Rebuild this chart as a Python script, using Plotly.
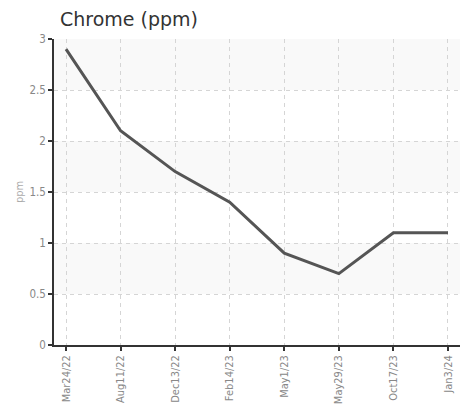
import plotly.graph_objects as go

categories = ["Mar24/22", "Aug11/22", "Dec13/22", "Feb14/23", "May1/23", "May29/23", "Oct17/23", "Jan3/24"]
values = [2.9, 2.1, 1.7, 1.4, 0.9, 0.7, 1.1, 1.1]
band_ranges = [(0.5, 1.0), (1.5, 2.0), (2.5, 3.0)]
y_ticks = [0, 0.5, 1, 1.5, 2, 2.5, 3]
y_tick_labels = ["0", "0.5", "1", "1.5", "2", "2.5", "3"]

fig = go.Figure()
fig.add_trace(go.Scatter(
    x=categories, y=values, mode="lines",
    line=dict(color="#555555", width=3),
    hoverinfo="x+y",
))

for lo, hi in band_ranges:
    fig.add_shape(type="rect", xref="paper", yref="y", x0=0, x1=1, y0=lo, y1=hi,
                  fillcolor="#f9f9f9", line=dict(width=0), layer="below")

narrow = "DejaVu Sans Condensed, sans-serif"
tick_font = dict(family=narrow, size=11, color="#888888")
grid_dash = "4px,4px"

# page body has an 8px default margin; figure is sized to fill the rest
W, H = 462, 404

fig.update_layout(
    template="none",
    width=W, height=H,
    margin=dict(l=46, r=10, t=31, b=67),
    paper_bgcolor="white", plot_bgcolor="white",
    showlegend=False,
    title=dict(text="Chrome (ppm)", x=52 / W, xref="container", xanchor="left",
               y=1 - 5 / H, yref="container", yanchor="top",
               font=dict(family="DejaVu Sans, Verdana, sans-serif", size=19, color="#333333"),
               pad=dict(l=0, t=0, b=0, r=0)),
    xaxis=dict(
        type="category", range=[-0.22, 7.22], automargin=False,
        tickmode="array", tickvals=categories, ticktext=categories,
        tickangle=-90, tickfont=tick_font,
        showgrid=True, gridcolor="#d5d5d5", griddash=grid_dash, gridwidth=1,
        showline=True, linecolor="#333333", linewidth=1.5,
        ticks="outside", ticklen=4, tickcolor="#333333", tickwidth=1.5,
        zeroline=False, fixedrange=True,
    ),
    yaxis=dict(
        range=[0, 3], automargin=False, tickmode="array", tickvals=y_ticks, ticktext=y_tick_labels,
        tickfont=dict(family=narrow, size=11.5, color="#888888"),
        showgrid=True, gridcolor="#d5d5d5", griddash=grid_dash, gridwidth=1,
        showline=True, linecolor="#333333", linewidth=1.5,
        ticks="outside", ticklen=4, tickcolor="#333333", tickwidth=1.5,
        zeroline=False, fixedrange=True,
        title=dict(text="ppm", font=dict(family=narrow, size=11, color="#aaaaaa"), standoff=4),
    ),
)

fig.write_html("out.html")
